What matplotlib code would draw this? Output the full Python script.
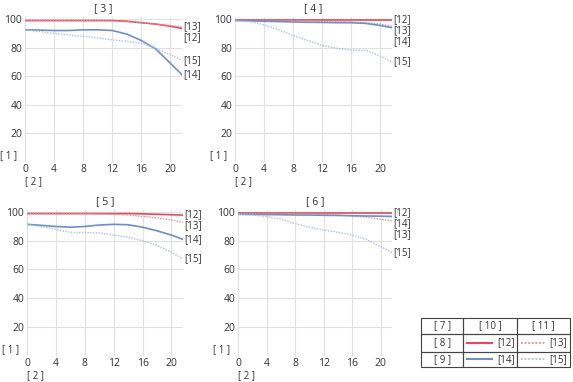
import matplotlib.pyplot as plt
from matplotlib.patches import Rectangle

plt.rcParams['font.family'] = ['Open Sans', 'DejaVu Sans']

# field position (x axis) and curve values per panel
x = [0, 2, 4, 6, 8, 10, 12, 14, 16, 18, 20, 21.6]

titles = ["[ 3 ]", "[ 4 ]", "[ 5 ]", "[ 6 ]"]
series_names = ["[12]", "[13]", "[14]", "[15]"]

p3 = [
    [99, 99, 99, 99, 99, 99, 99, 98.5, 97.5, 96.5, 95, 93.5],
    [99, 99, 99, 99, 99, 99, 98.8, 98.3, 97.5, 96.5, 95.5, 94.5],
    [92.5, 92.3, 92, 92, 92.5, 92.5, 92, 89.5, 85, 79, 69, 61],
    [92.5, 91.3, 90, 89, 88, 86.8, 85.5, 84.3, 83, 79.5, 75, 71],
]
p4 = [
    [99.5, 99.5, 99.5, 99.5, 99.5, 99.5, 99.5, 99.5, 99.5, 99.5, 99.5, 99.5],
    [99, 99, 99, 99, 99, 98.8, 98.5, 98.3, 98, 97.5, 96.5, 95],
    [99, 98.8, 98.5, 98.3, 98, 97.8, 97.7, 97.5, 97.5, 97, 95.5, 94],
    [99, 98.3, 96, 92.5, 88.5, 85, 81.5, 79.5, 78.3, 78, 74, 70],
]
p5 = [
    [99, 99, 99, 99, 99, 99, 99, 99, 98.8, 98.5, 98.2, 98],
    [99, 99, 99, 99, 99, 98.8, 98.5, 98, 97, 96, 94.5, 93],
    [91.5, 90.8, 90, 89.5, 90, 91, 91.5, 91.2, 89.5, 87, 84, 81],
    [91.5, 89.8, 88, 86, 85.8, 85.5, 84, 82.5, 80, 77, 72, 67.5],
]
p6 = [
    [99.5, 99.5, 99.5, 99.5, 99.5, 99.5, 99.5, 99.5, 99.5, 99.5, 99.5, 99.5],
    [99, 99, 99, 99, 99, 98.8, 98.5, 98, 97.3, 96.5, 95, 94],
    [98.5, 98.4, 98.3, 98.2, 98, 98, 97.8, 97.7, 97.5, 97.3, 97.2, 97],
    [98.5, 98, 97, 95, 92, 89.5, 87.5, 86, 84, 81, 76, 72],
]
panels = [p3, p4, p5, p6]

xticks = [0, 4, 8, 12, 16, 20]
yticks = [20, 40, 60, 80, 100]

colors = ["#e04a5c", "#ec8a98", "#6c8fc9", "#a9bfe4"]
styles = ["-", (0, (1, 1)), "-", (0, (1, 1))]
widths = [1.2, 1.0, 1.2, 1.0]
text_col = "#333333"

W, H = 573, 382
fig = plt.figure(figsize=(W / 100, H / 100), dpi=100)

# axes boxes in pixels: left, top, right, bottom
boxes = [(25, 17, 182, 161.5), (235, 17, 392, 161.5),
         (27, 210, 183, 355.5), (238, 210, 392, 355.5)]

for data, title, (l, t, r, b) in zip(panels, titles, boxes):
    ax = fig.add_axes([l / W, 1 - b / H, (r - l) / W, (b - t) / H])
    for ys, c, ls, lw in zip(data, colors, styles, widths):
        ax.plot(x, ys, color=c, linestyle=ls, linewidth=lw)
    ax.set_xlim(0, 21.6)
    ax.set_ylim(0, 101.5)
    ax.set_xticks(xticks)
    ax.set_yticks(yticks)
    ax.grid(True, color="#e0e0e0", linewidth=0.8)
    ax.set_axisbelow(True)
    for s in ax.spines.values():
        s.set_visible(False)
    ax.tick_params(length=0, labelsize=7.5, colors=text_col, pad=2)
    ax.set_title(title, fontsize=7.5, color=text_col, pad=4)
    ax.text(-0.05, 0.04, "[ 1 ]", transform=ax.transAxes, ha="right",
            va="center", fontsize=7, color=text_col)
    ax.text(0.0, -0.1, "[ 2 ]", transform=ax.transAxes, ha="left",
            va="top", fontsize=7, color=text_col)

    # end labels, pushed apart so they do not overlap
    ends = sorted(((ys[-1], n) for ys, n in zip(data, series_names)), reverse=True)
    prev = None
    for v, n in ends:
        yl = v if prev is None else min(v, prev - 7.7)
        prev = yl
        ax.text(1.01, yl, n, transform=ax.get_yaxis_transform(), ha="left",
                va="center", fontsize=7, color=text_col)

# legend table
tx0, ty0, tx1, ty1 = 421.5, 317.5, 569.5, 367
tax = fig.add_axes([tx0 / W, 1 - ty1 / H, (tx1 - tx0) / W, (ty1 - ty0) / H])
tax.set_xlim(tx0, tx1)
tax.set_ylim(ty1, ty0)
tax.axis("off")
cols = [421.5, 463.3, 517.3, 569.5]
rows = [317.5, 334, 351.5, 367]
for i in range(3):
    for j in range(3):
        tax.add_patch(Rectangle((cols[j], rows[i]), cols[j + 1] - cols[j],
                                rows[i + 1] - rows[i], fill=False,
                                edgecolor="#444444", linewidth=0.8, clip_on=False))
header = ["[ 7 ]", "[ 10 ]", "[ 11 ]"]
for j, h in enumerate(header):
    tax.text((cols[j] + cols[j + 1]) / 2, (rows[0] + rows[1]) / 2, h,
             ha="center", va="center", fontsize=7, color=text_col)
row_names = ["[ 8 ]", "[ 9 ]"]
for i, rn in enumerate(row_names):
    yc = (rows[i + 1] + rows[i + 2]) / 2
    tax.text((cols[0] + cols[1]) / 2, yc, rn, ha="center", va="center",
             fontsize=7, color=text_col)
    for j in range(2):
        k = i * 2 + j
        xa = cols[j + 1] + 4
        tax.plot([xa, xa + 25], [yc, yc], color=colors[k], linestyle=styles[k],
                 linewidth=widths[k] + 0.3)
        tax.text(cols[j + 2] - 2, yc, series_names[k], ha="right", va="center",
                 fontsize=7, color=text_col)

fig.savefig("out.png", dpi=100)
